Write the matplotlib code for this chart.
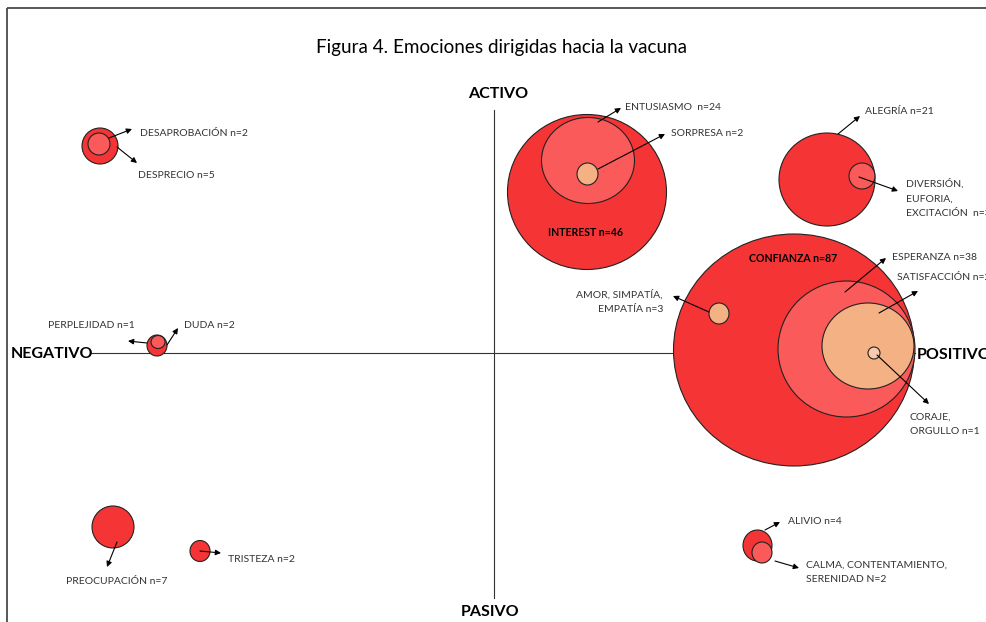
import matplotlib.pyplot as plt
from matplotlib.patches import Ellipse

# Circles (pixel space of the original figure): name, centre x, centre y, width, height, colour
circle_names = ['DESPRECIO', 'DESAPROBACION', 'DUDA', 'PERPLEJIDAD', 'PREOCUPACION', 'TRISTEZA',
                'INTEREST', 'ENTUSIASMO', 'SORPRESA', 'ALEGRIA', 'DIVERSION',
                'CONFIANZA', 'ESPERANZA', 'SATISFACCION', 'CORAJE', 'AMOR', 'ALIVIO', 'CALMA']
circle_x = [100, 99, 157, 158, 113, 200, 587, 588, 587.5, 827, 862, 794, 846.5, 868, 874, 719, 757.5, 762]
circle_y = [146, 144, 345.5, 342, 527, 551, 192, 160.5, 174, 179.5, 176, 350, 349, 346, 353, 313.5, 545.5, 552.5]
circle_w = [36, 22, 20, 14, 42, 20, 159, 93, 21, 96, 26, 241, 137, 92, 12, 20, 29, 20]
circle_h = [36, 22, 21, 13, 42, 21, 155, 86, 22, 93, 26, 232, 136, 86, 12, 21, 31, 21]
RED, LIGHT, PEACH, PALE = '#f53435', '#fa5a5a', '#f4b183', '#f8cbad'
circle_c = [RED, LIGHT, RED, LIGHT, RED, RED, RED, LIGHT, PEACH, RED, LIGHT,
            RED, LIGHT, PEACH, PALE, PEACH, RED, LIGHT]

# Annotation arrows: start -> end
arrow_x0 = [109, 117, 147, 167, 117, 200, 598, 598, 838, 859, 845, 879, 877, 709, 765, 775]
arrow_y0 = [138, 147, 343, 345, 542, 551, 122, 169, 134, 177, 292, 313, 355, 312, 530, 561]
arrow_x1 = [132, 137, 128, 178, 107, 221, 621, 665, 860, 898, 886, 918, 929, 673, 780, 799]
arrow_y1 = [129, 163, 341, 328, 567, 553, 108, 134, 116, 191, 258, 291, 404, 296, 522, 568]

# Labels
labels = ['DESAPROBACIÓN n=2', 'DESPRECIO n=5', 'PERPLEJIDAD n=1', 'DUDA n=2',
          'PREOCUPACIÓN n=7', 'TRISTEZA n=2', 'ENTUSIASMO  n=24', 'SORPRESA n=2',
          'ALEGRÍA n=21', 'DIVERSIÓN,\nEUFORIA,\nEXCITACIÓN  n=3', 'ESPERANZA n=38',
          'SATISFACCIÓN n=21', 'CORAJE,\nORGULLO n=1', 'AMOR, SIMPATÍA,\nEMPATÍA n=3',
          'ALIVIO n=4', 'CALMA, CONTENTAMIENTO,\nSERENIDAD N=2']
label_x = [140, 138, 48, 184, 66, 228, 625, 671, 865, 906, 892, 897, 910, 663, 788, 806]
label_y = [133, 176, 326, 326, 581, 559, 107, 133, 112, 198.5, 257, 278, 424.5, 302, 522, 572.5]
label_ha = ['left'] * 13 + ['right'] + ['left'] * 2

bold_labels = ['INTEREST n=46', 'CONFIANZA n=87']
bold_x = [586, 793]
bold_y = [232, 259]

fig = plt.figure(figsize=(9.86, 6.22), dpi=100)
ax = fig.add_axes([0, 0, 1, 1])
ax.set_xlim(0, 986)
ax.set_ylim(622, 0)
ax.axis('off')

# frame
ax.plot([6.5, 986], [8, 8], color='#4a4a4a', lw=1.3, solid_capstyle='butt')
ax.plot([6.5, 6.5], [8, 622], color='#4a4a4a', lw=1.3, solid_capstyle='butt')

# axes of the emotion map
ax.plot([494, 494], [110, 598], color='#333333', lw=0.8, zorder=1)
ax.plot([91, 915], [353, 353], color='#333333', lw=0.8, zorder=1)

for i in range(len(circle_names)):
    ax.add_patch(Ellipse((circle_x[i], circle_y[i]), circle_w[i], circle_h[i],
                         facecolor=circle_c[i], edgecolor='#222222', lw=0.8, zorder=2 + i * 0.01))

for x0, y0, x1, y1 in zip(arrow_x0, arrow_y0, arrow_x1, arrow_y1):
    ax.annotate('', xy=(x1, y1), xytext=(x0, y0),
                arrowprops=dict(arrowstyle='-|>', color='black', lw=0.8,
                                mutation_scale=8, shrinkA=0, shrinkB=0), zorder=4)

for t, x, y, ha in zip(labels, label_x, label_y, label_ha):
    ax.text(x, y, t, ha=ha, va='center', fontsize=7.5, family='Lato', color='#333333',
            linespacing=1.8, zorder=5)

for t, x, y in zip(bold_labels, bold_x, bold_y):
    ax.text(x, y, t, ha='center', va='center', fontsize=7.6, family='Lato',
            fontweight='bold', color='black', zorder=5)

axis_kw = dict(fontsize=11.5, family='Lato', fontweight='bold', color='black', va='center')
ax.text(498, 94, 'ACTIVO', ha='center', **axis_kw)
ax.text(490, 612, 'PASIVO', ha='center', **axis_kw)
ax.text(11, 354, 'NEGATIVO', ha='left', **axis_kw)
ax.text(917, 355, 'POSITIVO', ha='left', **axis_kw)

ax.text(501, 47, 'Figura 4. Emociones dirigidas hacia la vacuna', ha='center', va='center',
        fontsize=13.6, family='Lato', color='black')

fig.savefig('out.png', dpi=100)
